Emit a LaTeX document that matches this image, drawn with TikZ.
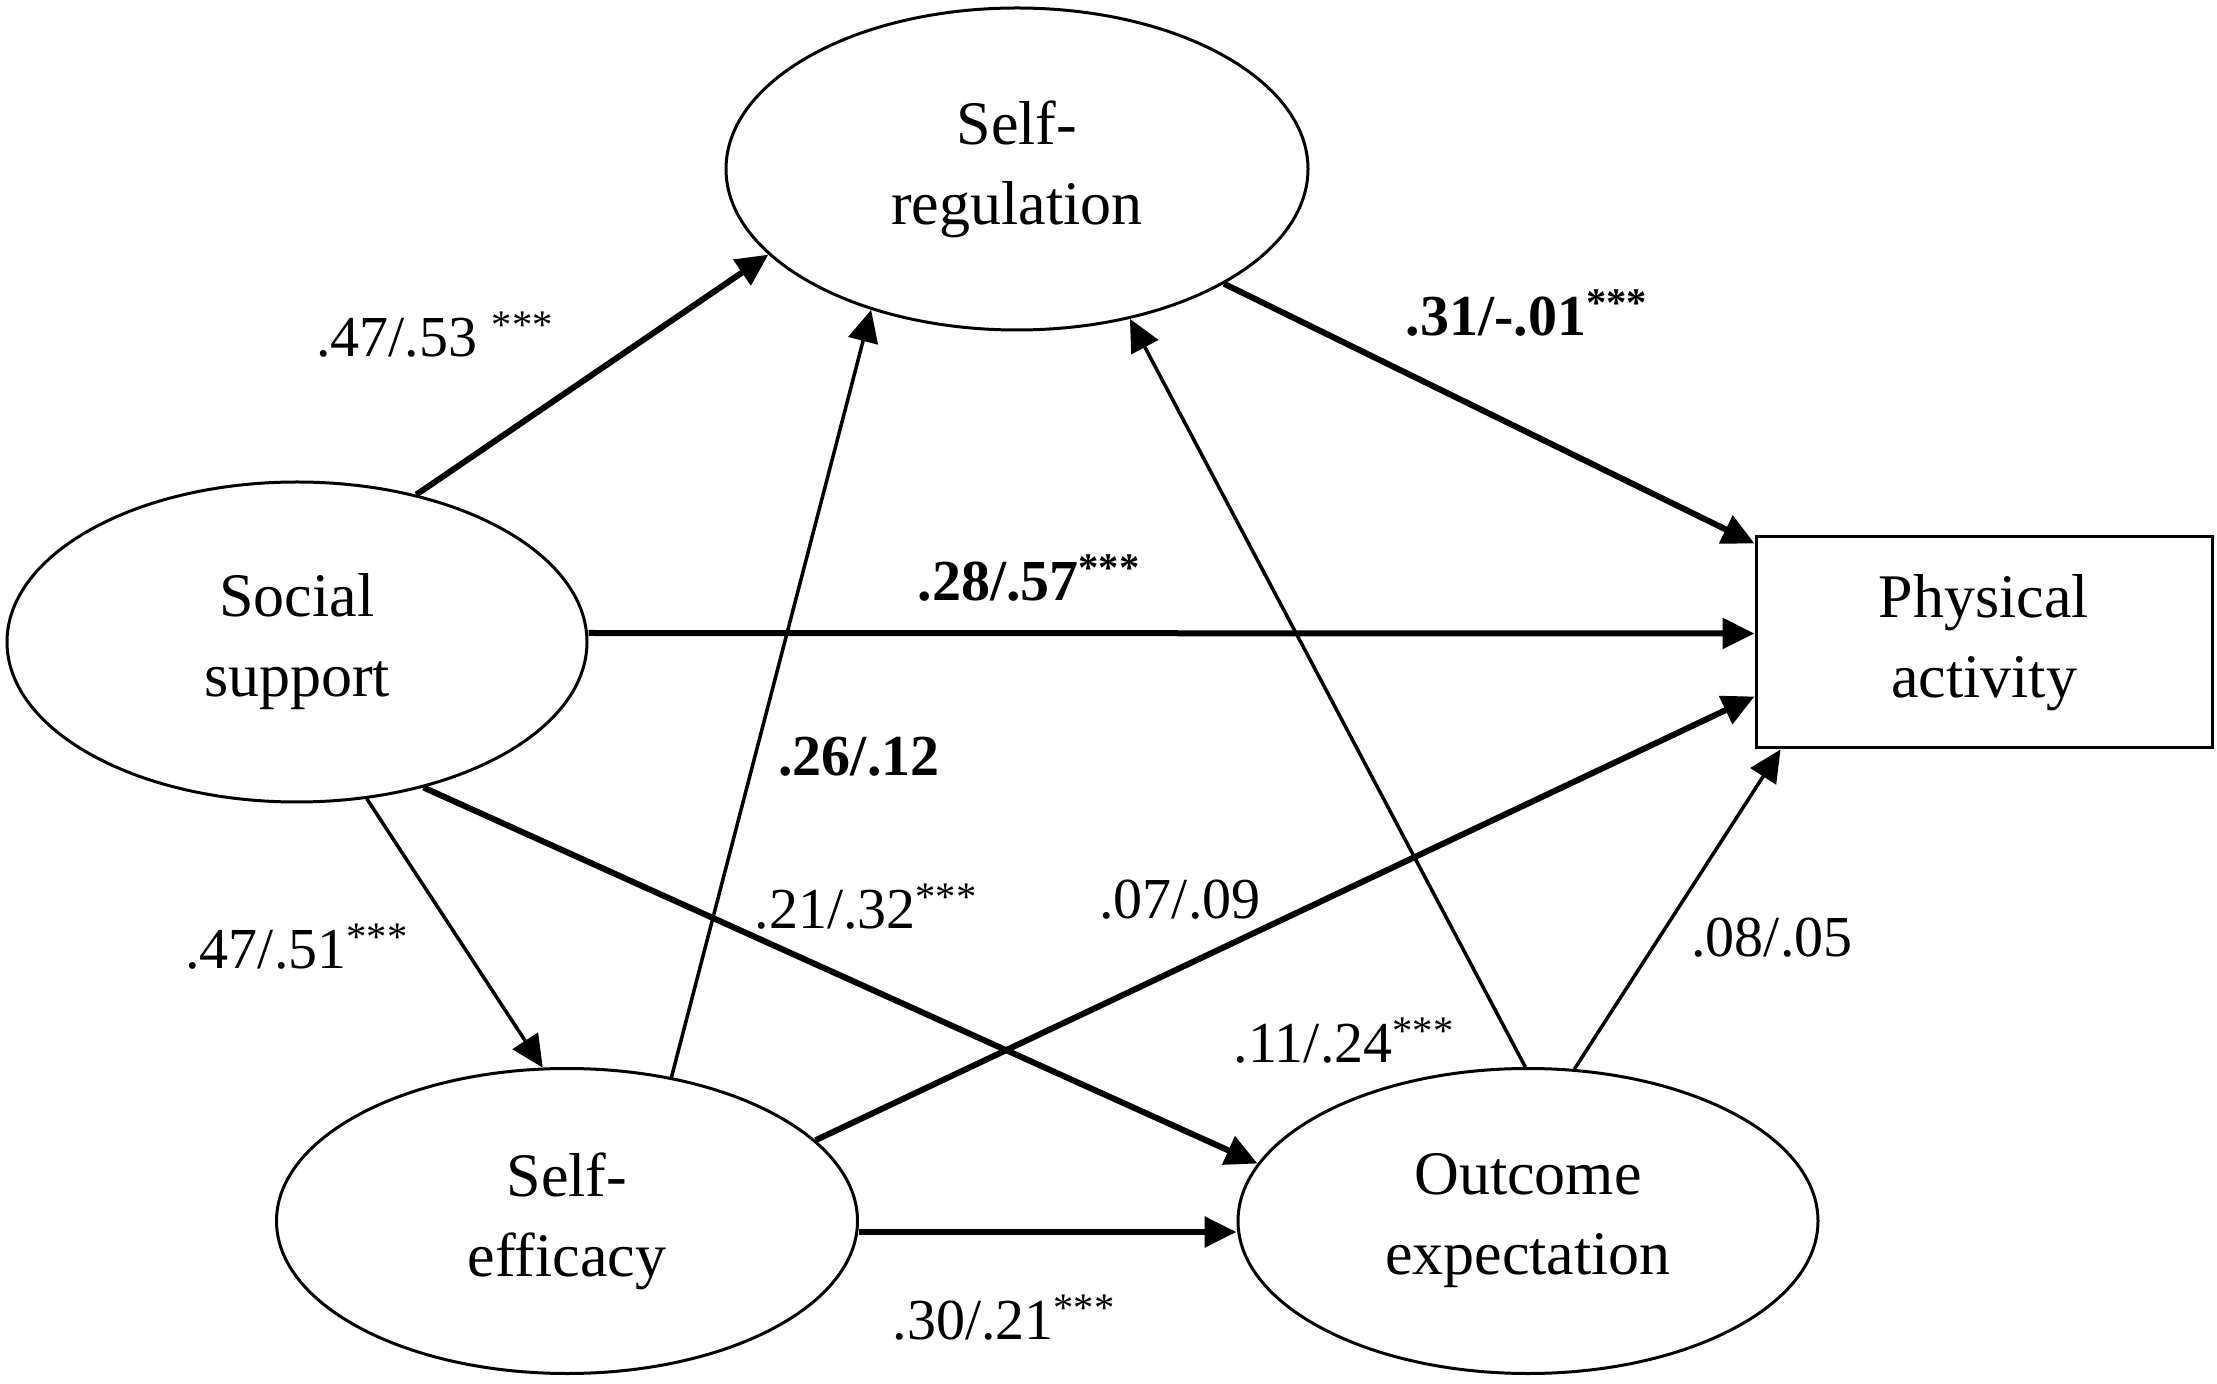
\documentclass[tikz,border=0pt]{standalone}
\usepackage{fontspec}
\setmainfont{Liberation Serif}
\usetikzlibrary{arrows.meta,shapes.geometric}
\begin{document}
\begin{tikzpicture}[x=0.5pt,y=-0.5pt,
  latent/.style={draw, line width=1.5pt, ellipse, inner sep=0pt, align=center,
    font=\fontsize{31}{40}\selectfont},
  obs/.style={draw, line width=1.5pt, rectangle, inner sep=0pt, align=center,
    font=\fontsize{31}{40}\selectfont, minimum width=228pt, minimum height=105.5pt},
  thickpath/.style={line width=3pt, -{Triangle[length=16pt,width=15pt]}},
  thinpath/.style={line width=1.75pt, -{Triangle[length=16pt,width=15pt]}},
  lab/.style={font=\fontsize{29}{34}\selectfont, inner sep=0pt},
  blab/.style={inner sep=0pt, font=\fontsize{29}{34}\selectfont\bfseries}]
\useasboundingbox (0,0) rectangle (2217,1384);

\node[latent, minimum width=291pt, minimum height=161pt] (SR) at (1017,169) {Self-\\regulation};
\node[latent, minimum width=290pt, minimum height=160pt] (SS) at (297,642) {Social\\support};
\node[latent, minimum width=290.5pt, minimum height=152.5pt] (SE) at (567,1221) {Self-\\efficacy};
\node[latent, minimum width=290pt, minimum height=152.5pt] (OE) at (1528,1221) {Outcome\\expectation};
\node[obs] (PA) at (1984,642.5) {Physical\\activity};

% connectors
\draw[thickpath] (SS.51.6) -- (SR.199.3);
\draw[thickpath] (SR.331.4) -- ([yshift=-4pt]PA.north west);
\draw[thickpath] ([yshift=4.5pt]SS.east) -- ([yshift=4.5pt]PA.west);
\draw[thinpath] (SE.54.3) -- (SR.224.4);
\draw[thinpath] (OE.91) -- (SR.307.1);
\draw[thinpath] (SS.294.8) -- (SE.99.2);
\draw[thickpath] (SS.311.7) -- (OE.168.3);
\draw[thickpath] (SE.18.8) -- ([yshift=-27pt]PA.west);
\draw[thinpath] (OE.73.6) -- ([xshift=13pt]PA.south west);
\draw[thickpath] ([yshift=-5.5pt]SE.east) -- ([yshift=-5.5pt]OE.west);

% labels
\node[lab]  (l1)  at (435,335)   {.47/.53 \textsuperscript{***}};
\node[blab] (l2)  at (1527,313)  {.31/-.01\textsuperscript{***}};
\node[blab] (l3)  at (1029,578)  {.28/.57\textsuperscript{***}};
\node[blab] (l4)  at (859,757)   {.26/.12};
\node[lab]  (l5)  at (866,907)   {.21/.32\textsuperscript{***}};
\node[lab]  (l6)  at (1180,900)  {.07/.09};
\node[lab]  (l7)  at (297,947)   {.47/.51\textsuperscript{***}};
\node[lab]  (l8)  at (1772,938)  {.08/.05};
\node[lab]  (l9)  at (1344,1041) {.11/.24\textsuperscript{***}};
\node[lab]  (l10) at (1004,1318) {.30/.21\textsuperscript{***}};
\end{tikzpicture}
\end{document}
